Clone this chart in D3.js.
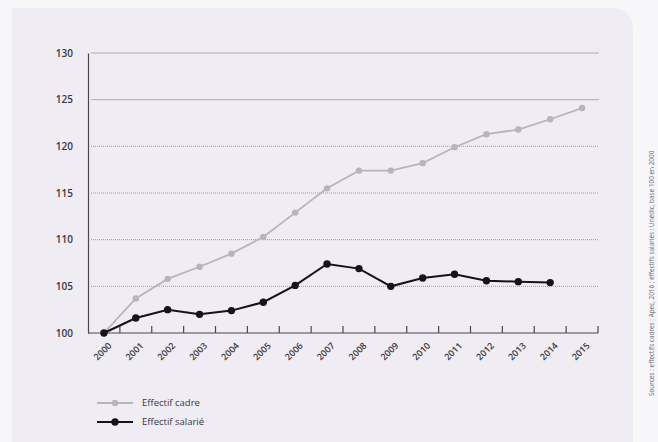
<!DOCTYPE html>
<html>
<head>
<meta charset="utf-8">
<script src="https://cdn.jsdelivr.net/npm/d3@7"></script>
<style>
    html, body { margin: 0; padding: 0; background: #f7f6f9; }
    svg { display: block; }
</style>
</head>
<body>
<div id="graph"></div>
<script>
// Data (index, base 100 in 2000)
const years = ["2000", "2001", "2002", "2003", "2004", "2005", "2006", "2007",
               "2008", "2009", "2010", "2011", "2012", "2013", "2014", "2015"];
const effectifCadre = [100, 103.7, 105.8, 107.1, 108.5, 110.3, 112.9, 115.5,
                       117.4, 117.4, 118.2, 119.9, 121.3, 121.8, 122.9, 124.1];
const effectifSalarie = [100, 101.6, 102.5, 102.0, 102.4, 103.3, 105.1, 107.4,
                         106.9, 105.0, 105.9, 106.3, 105.6, 105.5, 105.4];
const yTicks = [100, 105, 110, 115, 120, 125, 130];
const seriesLabels = ["Effectif cadre", "Effectif salarié"];
const sourceText = "Sources : effectifs cadres : Apec, 2016 ; effectifs salariés : Unédic, base 100 en 2000";

const W = 658, H = 442;
const margin = {top: 53, right: 60, bottom: 109, left: 88};
const width = W - margin.left - margin.right;   // 510
const height = H - margin.top - margin.bottom;  // 280

const font = "'Open Sans', 'DejaVu Sans', sans-serif";
const grey = "#b7b4ba";
const black = "#151316";

const root = d3.select("#graph").append("svg")
    .attr("width", W)
    .attr("height", H);

// panel background with rounded top right corner
root.append("path")
    .attr("d", "M12,8 H613 A20,20 0 0 1 633,28 V" + H + " H12 Z")
    .attr("fill", "#efecf3");

const svg = root.append("g")
    .attr("transform", "translate(" + margin.left + "," + margin.top + ")");

// scales
const x = d3.scaleBand().domain(years).range([0, width]).padding(0);
const y = d3.scaleLinear().domain([100, 130]).range([height, 0]);
const cx = d => x(d) + x.bandwidth() / 2;

// gridlines
svg.append("g")
    .selectAll("line")
    .data(yTicks.filter(t => t > 100))
    .enter().append("line")
    .attr("x1", 3)
    .attr("x2", width + 1)
    .attr("y1", d => y(d))
    .attr("y2", d => y(d))
    .attr("stroke", d => d >= 125 ? "#aeabb2" : "#9c99a0")
    .attr("stroke-width", 1)
    .attr("stroke-dasharray", d => d >= 125 ? null : "1,1");

// y axis
const yAxis = svg.append("g")
    .call(d3.axisLeft(y).tickValues(yTicks).tickSize(0).tickPadding(15));
yAxis.select(".domain").attr("stroke", "#4a474d").attr("stroke-width", 1.2);
yAxis.selectAll("text")
    .attr("font-family", font)
    .attr("font-size", 10)
    .attr("font-weight", 600)
    .attr("fill", "#3a373d");

// x axis: ticks at band boundaries, pointing up
const bounds = years.map(d => x(d)).slice(1).concat([width]);
const xAxis = svg.append("g").attr("transform", "translate(0," + height + ")");
xAxis.append("line")
    .attr("x1", 0).attr("x2", width)
    .attr("stroke", "#4a474d").attr("stroke-width", 1.2);
xAxis.selectAll("line.tick")
    .data(bounds)
    .enter().append("line")
    .attr("class", "tick")
    .attr("x1", d => d).attr("x2", d => d)
    .attr("y1", 0).attr("y2", -7)
    .attr("stroke", "#4a474d").attr("stroke-width", 1.2);
xAxis.selectAll("text")
    .data(years)
    .enter().append("text")
    .attr("transform", d => "translate(" + (cx(d) + 6) + ",11) rotate(-45)")
    .attr("text-anchor", "end")
    .attr("dy", "0.35em")
    .attr("font-family", font)
    .attr("font-size", 9)
    .attr("font-weight", 600)
    .attr("fill", "#3a373d")
    .text(d => d);

// lines
const line = d3.line()
    .x((d, i) => cx(years[i]))
    .y(d => y(d));

svg.append("path")
    .datum(effectifCadre)
    .attr("fill", "none")
    .attr("stroke", grey)
    .attr("stroke-width", 1.8)
    .attr("d", line);

svg.selectAll("circle.cadre")
    .data(effectifCadre)
    .enter().append("circle")
    .attr("class", "cadre")
    .attr("cx", (d, i) => cx(years[i]))
    .attr("cy", d => y(d))
    .attr("r", 3.2)
    .attr("fill", grey);

svg.append("path")
    .datum(effectifSalarie)
    .attr("fill", "none")
    .attr("stroke", black)
    .attr("stroke-width", 2)
    .attr("d", line);

svg.selectAll("circle.salarie")
    .data(effectifSalarie)
    .enter().append("circle")
    .attr("class", "salarie")
    .attr("cx", (d, i) => cx(years[i]))
    .attr("cy", d => y(d))
    .attr("r", 3.7)
    .attr("fill", black);

// legend
const legend = root.append("g")
    .selectAll("g")
    .data([
        {label: seriesLabels[0], color: grey, r: 3.2, w: 1.8},
        {label: seriesLabels[1], color: black, r: 3.7, w: 2}
    ])
    .enter().append("g")
    .attr("transform", (d, i) => "translate(97," + (403 + i * 19) + ")");

legend.append("line")
    .attr("x1", 0).attr("x2", 36)
    .attr("stroke", d => d.color)
    .attr("stroke-width", d => d.w);

legend.append("circle")
    .attr("cx", 18)
    .attr("r", d => d.r)
    .attr("fill", d => d.color);

legend.append("text")
    .attr("x", 45)
    .attr("dy", "0.35em")
    .attr("font-family", font)
    .attr("font-size", 9.5)
    .attr("font-weight", 500)
    .attr("fill", "#3a373d")
    .text(d => d.label);

// source, vertical on the right
root.append("text")
    .attr("transform", "translate(654,396) rotate(-90)")
    .attr("font-family", font)
    .attr("font-size", 6.4)
    .attr("fill", "#6a676d")
    .text(sourceText);
</script>
</body>
</html>
